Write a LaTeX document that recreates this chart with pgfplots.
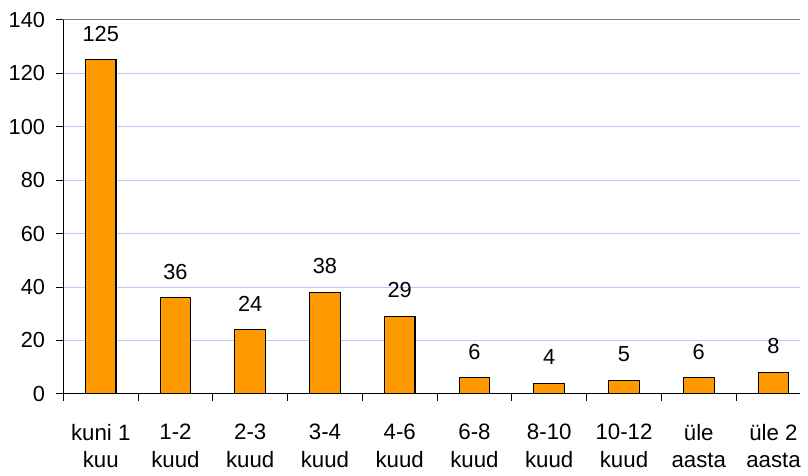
\documentclass[border=0pt]{standalone}
\usepackage{fontspec}
\setmainfont{Liberation Sans}
\usepackage{pgfplots}
\pgfplotsset{compat=1.18}
\definecolor{barorange}{RGB}{255,153,0}
\definecolor{gridlav}{RGB}{195,195,255}
\begin{document}
\fontsize{22pt}{28pt}\selectfont
\begin{tikzpicture}
\begin{axis}[
  at={(0,0)}, anchor=south west,
  scale only axis, width=744pt, height=378pt,
  ybar, bar width=31pt,
  xmin=-0.5, xmax=9.35, ymin=0, ymax=140,
  ytick={0,20,...,140},
  xtick={0,...,9},
  xticklabels={{kuni 1\\kuu},{1-2\\kuud},{2-3\\kuud},{3-4\\kuud},{4-6\\kuud},{6-8\\kuud},{8-10\\kuud},{10-12\\kuud},{üle\\aasta},{üle 2\\aasta}},
  minor xtick={-0.5,0.5,...,8.5},
  major x tick style={draw=none},
  minor tick length=7pt, major tick length=7pt,
  tick align=outside,
  axis x line*=bottom, axis y line*=left,
  axis line style={black, line width=0.9pt, -},
  tick style={black, line width=0.9pt},
  ymajorgrids, grid style={gridlav, line width=0.9pt},
  xticklabel style={align=center, font=\fontsize{22.5pt}{28pt}\selectfont, yshift=-16pt},
  yticklabel style={font=\fontsize{22pt}{26pt}\selectfont, xshift=-4pt},
  /pgf/number format/assume math mode=true,
  nodes near coords,
  every node near coord/.append style={font=\fontsize{22pt}{26pt}\selectfont, black, inner sep=0pt, anchor=south, yshift=18pt},
  clip=false,
]
\addplot[fill=barorange, draw=black, line width=1.2pt] coordinates {
(0,125) (1,36) (2,24) (3,38) (4,29) (5,6) (6,4) (7,5) (8,6) (9,8)};
\draw[gray, line width=0.9pt] (rel axis cs:0,1) -- (rel axis cs:1,1);
\end{axis}
\path[use as bounding box] (-64pt,-77pt) rectangle (744pt,398pt);
\end{tikzpicture}
\end{document}
